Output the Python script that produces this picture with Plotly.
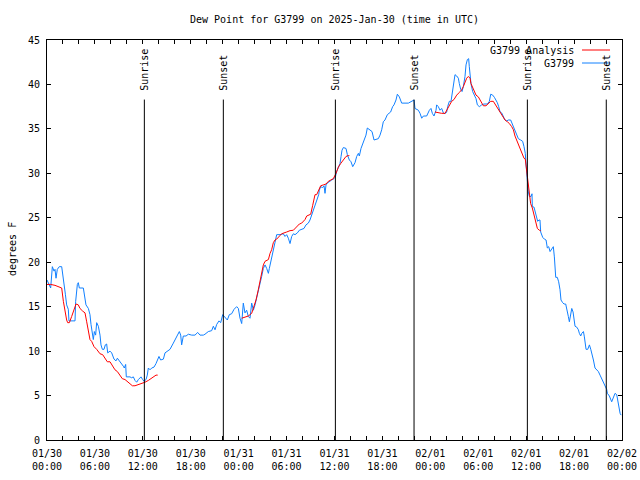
import datetime as dt
import plotly.graph_objects as go

# ---------------- data (hours since 2025-01-30 00:00 UTC) ----------------
obs_hours = [
    0.0, 0.25, 0.46, 0.67, 0.88, 1.0, 1.13, 1.29, 1.54, 1.84, 1.96, 2.13, 2.30, 2.46, 2.67, 2.75,
    3.51, 3.59, 3.80, 3.92, 4.05, 4.55, 4.68, 4.88, 5.18, 5.38, 5.51, 5.68, 5.80, 5.93, 6.09,
    6.22, 6.43, 6.64, 6.76, 6.93, 7.14, 7.30, 7.47, 7.60, 7.89, 8.10, 8.39, 8.64, 8.81, 9.06,
    9.35, 9.56, 9.68, 9.85, 9.93, 10.39, 10.60, 10.81, 11.02, 11.23, 11.44, 11.77, 11.98, 12.15,
    12.40, 12.56, 12.69, 12.90, 13.11, 13.40, 13.65, 13.82, 14.02, 14.23, 14.57, 14.78, 15.07,
    15.40, 15.82, 16.24, 16.57, 16.74, 16.86, 17.07, 17.41, 17.70, 18.12, 18.53, 18.87, 19.16,
    19.58, 19.78, 20.20, 20.62, 20.83, 21.04, 21.25, 21.54, 21.75, 22.00, 22.29, 22.58, 22.83,
    23.12, 23.42, 23.75, 23.96, 24.17, 24.38, 24.58, 24.79, 25.0, 25.21, 25.42, 25.63, 25.84,
    26.05, 26.25, 26.46, 26.67, 26.88, 27.09, 27.30, 27.51, 27.72, 27.84, 28.13, 28.34, 28.47,
    28.63, 28.76, 29.18, 29.59, 29.80, 30.01, 30.22, 30.43, 30.64, 30.85, 31.06, 31.35, 31.60,
    31.89, 32.18, 32.43, 32.72, 32.93, 33.14, 33.35, 33.56, 33.68, 33.85, 34.02, 34.10, 34.27,
    34.52, 34.69, 34.81, 34.94, 35.10, 35.35, 35.65, 35.94, 36.11, 36.27, 36.48, 36.69, 36.82,
    36.94, 37.11, 37.44, 37.61, 37.86, 38.07, 38.28, 38.57, 38.78, 38.99, 39.11, 39.32, 39.53,
    39.73, 39.94, 40.11, 40.45, 40.70, 40.95, 41.20, 41.49, 41.70, 41.91, 42.11, 42.32, 42.62,
    42.87, 43.03, 43.28, 43.45, 43.70, 43.87, 44.12, 44.41, 45.25, 45.66, 45.88, 45.96, 46.08,
    46.50, 46.71, 46.92, 47.13, 47.54, 47.88, 48.08, 48.25, 48.46, 48.71, 48.79, 49.0, 49.21,
    49.42, 49.63, 49.84, 50.05, 50.17, 50.38, 50.59, 50.76, 50.88, 51.01, 51.09, 51.30, 51.51,
    51.63, 51.80, 51.97, 52.13, 52.34, 52.47, 52.64, 52.80, 52.88, 52.97, 53.09, 53.30, 53.47,
    53.72, 53.89, 54.14, 54.43, 54.72, 55.14, 55.39, 55.56, 55.81, 56.02, 56.22, 56.39, 56.56,
    56.73, 56.93, 57.14, 57.35, 57.56, 57.77, 58.06, 58.31, 58.60, 58.81, 59.02, 59.31, 59.56,
    59.73, 59.89, 59.98, 60.06, 60.15, 60.27, 60.40, 60.61, 60.73, 60.77, 60.98, 61.15, 61.32,
    61.44, 61.61, 61.73, 61.82, 62.07, 62.28, 62.49, 62.65, 62.82, 62.99, 63.20, 63.40, 63.53,
    63.61, 63.70, 63.90, 64.07, 64.24, 64.36, 64.57, 64.74, 64.95, 65.07, 65.28, 65.41, 65.58,
    65.71, 65.87, 66.0, 66.12, 66.33, 66.54, 66.66, 66.83, 66.96, 67.17, 67.29, 67.42, 67.50,
    67.71, 67.92, 68.09, 68.21, 68.42, 68.62, 68.83, 69.04, 69.25, 69.46, 69.67, 69.88, 70.08,
    70.17, 70.42, 70.71, 70.92, 71.13, 71.34, 71.55, 71.76, 71.89,
]
obs_dewpt = [
    18.0, 17.5, 17.1, 19.5, 19.0, 19.2, 18.2, 19.2, 19.5, 19.5, 18.8, 17.5, 16.4, 15.2, 14.7, 13.4,
    13.4, 15.6, 17.5, 17.7, 17.1, 17.1, 16.2, 15.2, 14.8, 14.1, 13.0, 11.8, 11.3, 12.2, 11.8,
    13.2, 12.8, 11.8, 10.7, 10.2, 10.2, 10.7, 10.8, 9.8, 10.0, 9.8, 9.1, 8.9, 9.2, 8.9,
    8.6, 8.3, 8.1, 8.5, 7.1, 7.1, 7.0, 7.1, 6.7, 6.5, 6.8, 7.1, 6.8, 6.6,
    6.8, 7.3, 8.1, 7.9, 8.1, 8.2, 8.6, 9.0, 9.4, 9.0, 9.1, 9.8, 10.0,
    10.2, 10.9, 11.7, 12.2, 11.8, 10.7, 11.7, 11.7, 11.9, 11.8, 11.8, 12.1, 11.8,
    11.8, 11.9, 12.2, 12.3, 12.8, 12.4, 13.0, 13.4, 13.2, 14.1, 13.8, 13.5, 14.1,
    14.2, 14.7, 15.0, 14.8, 13.7, 13.1, 15.4, 14.3, 14.6, 13.9, 13.7, 15.4, 14.6,
    15.2, 15.9, 16.7, 17.6, 18.4, 19.3, 19.7, 19.3, 18.75, 19.3, 20.4, 21.2, 21.75,
    22.5, 23.1, 23.1, 23.2, 22.9, 23.1, 22.7, 22.1, 22.9, 23.2, 23.1, 23.3, 23.6,
    23.7, 23.8, 24.2, 24.4, 24.75, 25.3, 25.7, 26.25, 26.8, 27.0, 27.6, 28.1, 28.5,
    28.4, 28.6, 27.75, 28.7, 28.9, 29.1, 29.25, 29.4, 29.6, 30.2, 30.75, 31.1, 31.9,
    32.6, 32.9, 32.8, 32.1, 31.5, 31.3, 30.75, 31.2, 31.9, 32.25, 31.95, 32.8, 33.3,
    33.75, 34.3, 35.1, 34.9, 34.7, 33.75, 33.8, 33.9, 34.3, 34.9, 35.8, 36.0, 36.6,
    36.75, 36.9, 37.5, 37.7, 38.25, 38.9, 38.6, 37.9, 37.9, 38.1, 38.25, 38.25, 37.3,
    37.1, 36.75, 36.2, 36.45, 36.45, 37.1, 37.3, 36.75, 36.45, 37.1, 37.7, 37.5, 37.1,
    37.3, 36.8, 36.7, 36.9, 37.5, 38.1, 38.1, 39.0, 39.6, 40.5, 41.1, 40.95, 40.7,
    40.1, 39.45, 39.2, 39.75, 40.9, 42.2, 42.8, 42.9, 42.0, 41.1, 40.1, 39.2, 38.8,
    38.4, 37.7, 37.5, 37.7, 37.8, 37.8, 38.1, 38.9, 38.8, 38.55, 38.3, 37.95, 37.5,
    36.9, 36.8, 36.4, 36.0, 35.9, 36.0, 36.0, 35.4, 34.9, 34.3, 33.9, 33.75, 33.6,
    33.0, 32.25, 31.05, 30.0, 28.9, 27.9, 27.4, 27.4, 27.7, 26.25, 26.2, 25.7, 25.1,
    24.6, 24.75, 24.75, 23.4, 22.8, 22.6, 22.5, 21.6, 21.75, 21.2, 21.45, 21.75, 20.6,
    19.1, 18.3, 18.3, 17.8, 16.9, 15.75, 15.45, 15.3, 15.3, 14.6, 13.9, 13.3, 14.25,
    14.8, 14.4, 13.7, 12.8, 12.7, 12.4, 12.0, 11.7, 12.0, 12.2, 11.6, 10.5, 10.2,
    10.2, 10.7, 10.2, 9.6, 9.0, 8.1, 7.9, 7.7, 7.3, 6.9, 6.6, 6.2, 5.7,
    5.25, 4.95, 4.3, 4.7, 5.25, 5.1, 3.75, 3.0, 2.8,
]

# analysis series (None = no analysis available)
ana_hours = [
    0.0, 0.46, 1.0, 1.54, 1.84, 2.05, 2.25, 2.46, 2.59, 2.80, 3.09, 3.38, 3.63, 3.92, 4.13, 4.47,
    4.76, 4.97, 5.18, 5.38, 5.59, 5.89, 6.22, 6.64, 6.97, 7.26, 7.55, 7.89, 8.18, 8.51, 8.81,
    9.14, 9.43, 9.77, 10.06, 10.39, 10.69, 11.02, 11.31, 11.85, 12.27, 12.69, 12.98, 13.32,
    13.65, 13.86, None,
    24.38, 24.79, 25.21, 25.63, 25.92, 26.17, 26.46, 26.67, 26.88, 27.09, 27.30, 27.72, 27.93,
    28.13, 28.34, 28.55, 28.76, 29.09, 29.38, 30.01, 30.43, 30.85, 31.27, 31.60, 31.89, 32.10,
    32.31, 32.52, 32.72, 33.02, 33.27, 33.43, 33.56, 33.77, 34.06, 34.27, 34.60, 34.94, 35.23,
    35.52, 35.85, 36.19, 36.48, 36.77, 37.11, 37.44, 37.73, 37.86, None,
    48.58, 49.0, 49.42, 49.84, 50.05, 50.38, 50.67, 50.96, 51.30, 51.63, 51.92, 52.13, 52.34,
    52.55, 52.76, 52.97, 53.09, 53.30, 53.47, 53.72, 54.01, 54.22, 54.43, 54.64, 54.97, 55.26,
    55.56, 55.89, 56.10, 56.31, 56.52, 56.73, 56.93, 57.14, 57.35, 57.65, 57.90, 58.19, 58.40,
    58.60, 58.81, 59.02, 59.31, 59.56, 59.73, 59.89, 60.06, 60.19, 60.31, 60.40, 60.56, 60.77,
    60.98, 61.19, 61.40, 61.65, 61.82,
]
ana_dewpt = [
    17.5, 17.5, 17.4, 17.2, 17.1, 15.6, 14.5, 13.5, 13.2, 13.2, 13.9, 14.7, 15.3, 15.2, 14.8, 14.5,
    14.3, 13.3, 12.2, 11.3, 11.1, 10.5, 10.2, 9.7, 9.6, 9.2, 8.8, 8.8, 8.3, 7.9, 7.7,
    7.3, 6.9, 6.8, 6.6, 6.3, 6.1, 6.1, 6.2, 6.3, 6.5, 6.7, 6.9, 7.1,
    7.3, 7.3, None,
    13.7, 13.8, 13.95, 14.25, 15.0, 15.75, 16.9, 17.8, 18.75, 19.7, 20.1, 20.3, 21.0,
    21.4, 22.2, 22.5, 22.6, 22.95, 23.2, 23.4, 23.55, 23.6, 24.0, 24.3, 24.4, 24.6,
    24.8, 25.2, 25.3, 25.4, 26.4, 27.2, 27.6, 27.6, 28.1, 28.6, 28.7, 28.8, 29.1,
    29.2, 29.4, 30.0, 30.7, 31.1, 31.5, 31.9, 32.0, 32.0, None,
    36.9, 36.8, 36.75, 36.75, 37.1, 37.7, 38.1, 38.3, 38.8, 39.1, 39.4, 39.75, 40.2,
    40.7, 40.9, 40.7, 40.1, 39.6, 39.2, 38.8, 38.6, 38.25, 37.8, 37.6, 37.6, 37.9,
    38.1, 38.1, 37.8, 37.5, 37.1, 36.8, 36.6, 36.2, 36.0, 35.8, 35.6, 35.25, 34.9,
    34.2, 33.75, 33.2, 32.6, 32.1, 31.7, 31.6, 30.4, 29.25, 28.5, 27.4, 26.6, 26.1,
    25.3, 24.6, 23.8, 23.6, 23.55,
]

sunrise_hours = [12.19, 36.11, 60.15]
sunset_hours = [22.08, 45.96, 70.03]

title_text = "Dew Point for G3799 on 2025-Jan-30 (time in UTC)"
y_label = "degrees F"
obs_name = "G3799"
ana_name = "G3799 Analysis"
y_ticks = [0, 5, 10, 15, 20, 25, 30, 35, 40, 45]

# ---------------- helpers ----------------
BASE = dt.datetime(2025, 1, 30, 0, 0)


def to_time(h):
    return None if h is None else BASE + dt.timedelta(hours=h)


FONT = "DejaVu Sans Mono"
BLUE = "#1080ff"
RED = "#ff0000"

# the page margin is removed in post_script, so the figure sits at (0, 0)
OFF = 0
FIG_W, FIG_H = 640, 480

fig = go.Figure()
fig.add_trace(go.Scatter(x=[to_time(h) for h in obs_hours], y=obs_dewpt, mode="lines",
                         line=dict(color=BLUE, width=1), name=obs_name, showlegend=False))
fig.add_trace(go.Scatter(x=[to_time(h) for h in ana_hours], y=ana_dewpt, mode="lines",
                         line=dict(color=RED, width=1), name=ana_name, showlegend=False,
                         connectgaps=False))

# sunrise / sunset markers
shapes = []
annotations = []
events = [(h, "Sunrise") for h in sunrise_hours] + [(h, "Sunset") for h in sunset_hours]
for h, lab in events:
    t = to_time(h)
    shapes.append(dict(type="line", xref="x", yref="y", x0=t, x1=t, y0=0, y1=38.3,
                       line=dict(color="black", width=1)))
    annotations.append(dict(x=t, y=39.1, xref="x", yref="y", text=lab, textangle=-90,
                            showarrow=False, xanchor="center", yanchor="bottom",
                            font=dict(family=FONT, size=10, color="black")))

# plot area in page pixels
L, R, T, B = 47, 622, 40, 440
W, H = R - L, B - T


def px(x):
    return (x - L) / W


def py(y):
    return (B - y) / H


# manual gnuplot-style legend (text left, sample right)
for row_y, name, col in [(50, ana_name, RED), (63, obs_name, BLUE)]:
    annotations.append(dict(x=px(576), y=py(row_y), xref="paper", yref="paper", text=name,
                            showarrow=False, xanchor="right", yanchor="middle",
                            font=dict(family=FONT, size=10, color="black")))
    shapes.append(dict(type="line", xref="paper", yref="paper", x0=px(582), x1=px(610),
                       y0=py(row_y), y1=py(row_y), line=dict(color=col, width=1)))

annotations.append(dict(x=px(12), y=py(249), xref="paper", yref="paper", text=y_label,
                        textangle=-90, showarrow=False, xanchor="center", yanchor="middle",
                        font=dict(family=FONT, size=10, color="black")))

tick_vals = [to_time(h) for h in range(0, 73, 2)]
tick_text = [(to_time(h).strftime("%m/%d") + "<br>" + to_time(h).strftime("%H:%M"))
             if h % 6 == 0 else "" for h in range(0, 73, 2)]

fig.update_layout(
    width=FIG_W, height=FIG_H, autosize=False,
    margin=dict(l=L - OFF, r=(OFF + FIG_W) - R, t=T - OFF, b=(OFF + FIG_H) - B,
                autoexpand=False),
    paper_bgcolor="white", plot_bgcolor="white",
    font=dict(family=FONT, size=10, color="black"),
    title=dict(text=title_text, x=0.5, xref="paper", xanchor="center",
               y=1 - (19 - OFF) / FIG_H, yanchor="middle", font=dict(family=FONT, size=10)),
    shapes=shapes, annotations=annotations, showlegend=False,
)
fig.update_xaxes(type="date", range=[to_time(0), to_time(72)], tickmode="array",
                 tickvals=tick_vals, ticktext=tick_text, ticks="inside", ticklen=4,
                 tickcolor="black", showline=True, linecolor="black", linewidth=1,
                 mirror="ticks", showgrid=False, zeroline=False, ticklabelstandoff=4,
                 automargin=False, ticklabeloverflow="allow",
                 tickfont=dict(family=FONT, size=10))
fig.update_yaxes(range=[0, 45], tickmode="array", tickvals=y_ticks, ticks="inside",
                 ticklen=4, tickcolor="black", showline=True, linecolor="black",
                 linewidth=1, mirror="ticks", showgrid=False, zeroline=False,
                 ticklabelstandoff=4, automargin=False, tickfont=dict(family=FONT, size=10))

fig.write_html(
    "out.html",
    config={"displayModeBar": False},
    post_script="document.body.style.margin='0px';"
                "document.documentElement.style.overflow='hidden';",
)
